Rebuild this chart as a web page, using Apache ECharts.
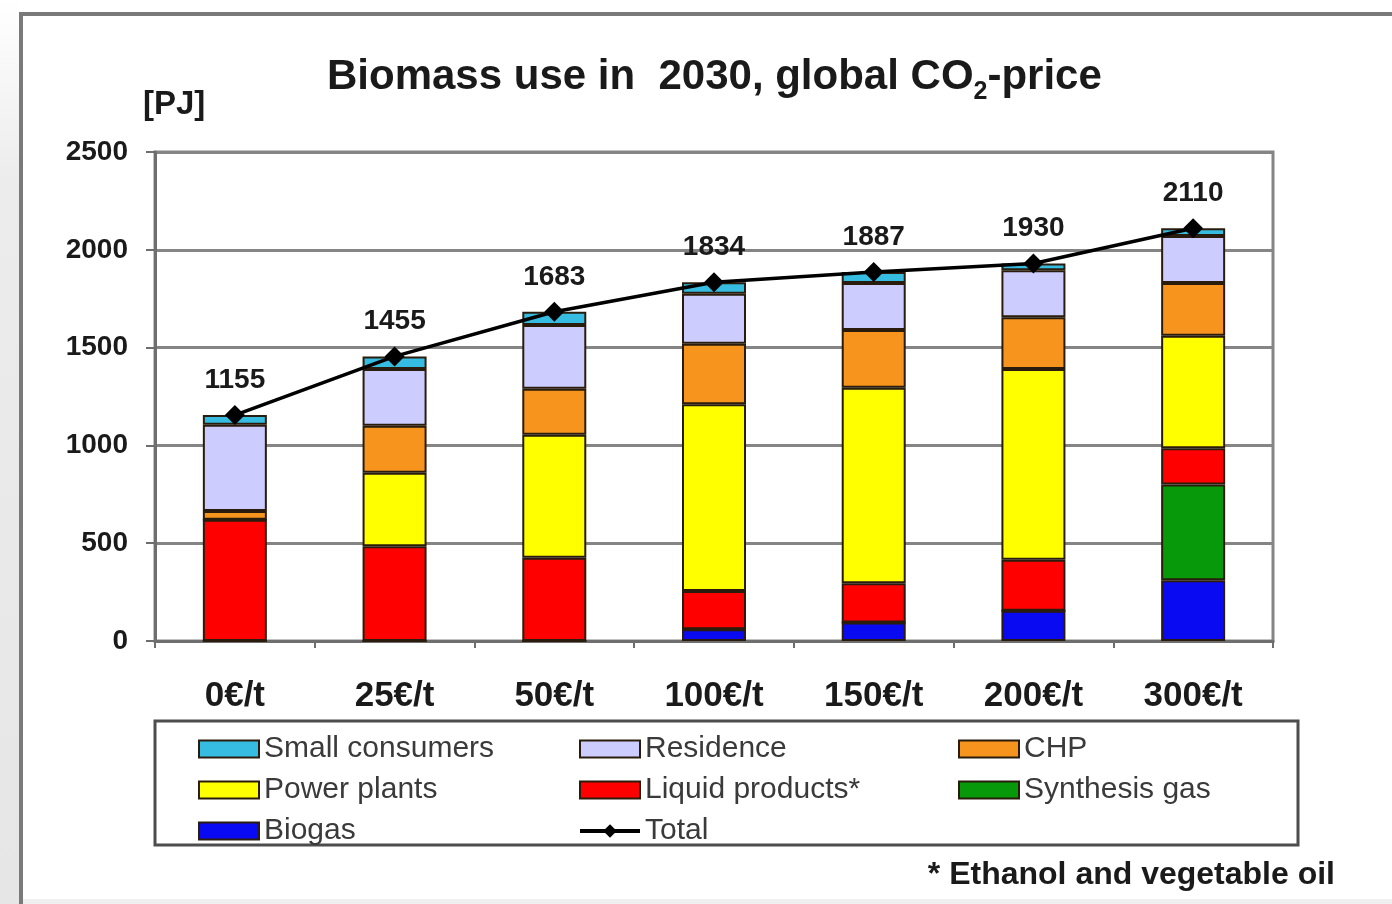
<!DOCTYPE html>
<html>
<head>
<meta charset="utf-8">
<script src="https://cdn.jsdelivr.net/npm/echarts@6/dist/echarts.min.js"></script>
<style>
  html, body { margin: 0; padding: 0; background: #ffffff; }
  #chart { width: 1392px; height: 904px; }
</style>
</head>
<body>
<div id="chart"></div>
<script>
// CO2 price scenarios
const categories = ['0€/t', '25€/t', '50€/t', '100€/t', '150€/t', '200€/t', '300€/t'];

// Biomass use by sector [PJ]
const biogas         = [0, 0, 0, 60, 95, 155, 310];
const synthesisGas   = [0, 0, 0, 0, 0, 0, 490];
const liquidProducts = [620, 485, 425, 195, 200, 260, 185];
const powerPlants    = [0, 375, 630, 955, 1000, 975, 575];
const chp            = [45, 240, 235, 310, 295, 265, 270];
const residence      = [440, 290, 325, 255, 240, 240, 240];
const smallConsumers = [50, 65, 68, 59, 57, 35, 40];
const total          = [1155, 1455, 1683, 1834, 1887, 1930, 2110];

const yTicks = [0, 500, 1000, 1500, 2000, 2500];

const FONT = '"Liberation Sans", Arial, Helvetica, sans-serif';
const EDGE = '#2a1c0c';

function barSeries(name, data, color) {
  return {
    name: name,
    type: 'bar',
    stack: 'use',
    data: data,
    barWidth: 64,
    itemStyle: { color: color, borderColor: EDGE, borderWidth: 2 },
    emphasis: { disabled: true }
  };
}

const chart = echarts.init(document.getElementById('chart'), null, { renderer: 'canvas' });

const legendText = { fontFamily: FONT, fontSize: 30, color: '#3a3a3a', lineHeight: 28 };
function legendCol(left, names) {
  return {
    orient: 'vertical',
    left: left,
    top: 734,
    itemWidth: 60,
    itemHeight: 17,
    itemGap: 11,
    itemStyle: { borderWidth: 2, borderColor: EDGE },
    padding: 0,
    textStyle: legendText,
    selectedMode: false,
    data: names.map(function (n) {
      if (n === 'Total') {
        return { name: n, lineStyle: { width: 4, color: '#000000' }, itemStyle: { color: '#000000', borderWidth: 0 } };
      }
      return { name: n, icon: 'rect' };
    })
  };
}

chart.setOption({
  animation: false,
  backgroundColor: '#ffffff',
  title: {
    left: 327,
    top: 50,
    padding: 0,
    text: '{a|Biomass use in  2030, global CO}{s|2}{a|-price}',
    textStyle: {
      rich: {
        a: { fontFamily: FONT, fontSize: 42, fontWeight: 'bold', color: '#1a1a1a', lineHeight: 55, verticalAlign: 'middle' },
        s: { fontFamily: FONT, fontSize: 25, fontWeight: 'bold', color: '#1a1a1a', lineHeight: 55, verticalAlign: 'bottom' }
      }
    }
  },
  legend: [
    legendCol(198, ['Small consumers', 'Power plants', 'Biogas']),
    legendCol(578, ['Residence', 'Liquid products*', 'Total']),
    legendCol(958, ['CHP', 'Synthesis gas'])
  ],
  grid: {
    left: 155,
    right: 119,
    top: 152,
    bottom: 263,
    show: true,
    borderColor: '#858585',
    borderWidth: 3,
    backgroundColor: 'transparent'
  },
  xAxis: {
    type: 'category',
    data: categories,
    axisLine: { lineStyle: { color: '#6e6e6e', width: 3 } },
    axisTick: { show: true, length: 7, lineStyle: { color: '#6e6e6e', width: 2 } },
    axisLabel: { margin: 38, fontFamily: FONT, fontSize: 35, fontWeight: 'bold', color: '#1a1a1a' },
    splitLine: { show: false }
  },
  yAxis: {
    type: 'value',
    min: yTicks[0],
    max: yTicks[yTicks.length - 1],
    interval: 500,
    axisLine: { show: true, lineStyle: { color: '#6e6e6e', width: 3 } },
    axisTick: { show: true, length: 9, lineStyle: { color: '#6e6e6e', width: 2 } },
    axisLabel: {
      margin: 27, fontFamily: FONT, fontSize: 28, fontWeight: 'bold', color: '#1a1a1a',
      formatter: function (v) { return String(v); }
    },
    splitLine: { show: true, lineStyle: { color: '#858585', width: 3 } }
  },
  series: [
    barSeries('Biogas', biogas, '#0a0af2'),
    barSeries('Synthesis gas', synthesisGas, '#07990a'),
    barSeries('Liquid products*', liquidProducts, '#ff0000'),
    barSeries('Power plants', powerPlants, '#ffff00'),
    barSeries('CHP', chp, '#f7941e'),
    barSeries('Residence', residence, '#ccccff'),
    barSeries('Small consumers', smallConsumers, '#35bce0'),
    {
      name: 'Total',
      type: 'line',
      data: total,
      symbol: 'diamond',
      symbolSize: 20,
      lineStyle: { color: '#000000', width: 3.5 },
      itemStyle: { color: '#000000' },
      label: {
        show: true,
        position: 'top',
        distance: 11,
        fontFamily: FONT,
        fontSize: 28,
        fontWeight: 'bold',
        color: '#1a1a1a'
      },
      emphasis: { disabled: true },
      z: 5
    }
  ],
  graphic: [
    // page edge shading on the left
    {
      type: 'rect', silent: true, z: -10,
      shape: { x: 0, y: 0, width: 19, height: 904 },
      style: {
        fill: new echarts.graphic.LinearGradient(0, 0, 0, 1, [
          { offset: 0, color: '#ffffff' },
          { offset: 0.2, color: '#ececec' },
          { offset: 1, color: '#e6e6e6' }
        ])
      }
    },
    {
      type: 'rect', silent: true, z: -10,
      shape: { x: 19, y: 899, width: 1373, height: 5 },
      style: { fill: '#f0f0f0' }
    },
    // outer frame
    {
      type: 'polyline', silent: true, z: 10,
      shape: { points: [[21, 904], [21, 14], [1392, 14]] },
      style: { stroke: '#7a7a7a', lineWidth: 4, fill: null }
    },
    // legend box
    {
      type: 'rect', silent: true, z: 1,
      shape: { x: 155, y: 721, width: 1143, height: 124 },
      style: { fill: '#ffffff', stroke: '#4d4d4d', lineWidth: 3 }
    },
    // unit label
    {
      type: 'text', silent: true,
      x: 143, y: 105,
      style: {
        text: '[PJ]', fontFamily: FONT, fontSize: 33, fontWeight: 'bold',
        fill: '#1a1a1a', textAlign: 'left', textVerticalAlign: 'middle'
      }
    },
    // footnote
    {
      type: 'text', silent: true,
      x: 1335, y: 875,
      style: {
        text: '* Ethanol and vegetable oil', fontFamily: FONT, fontSize: 32, fontWeight: 'bold',
        fill: '#1a1a1a', textAlign: 'right', textVerticalAlign: 'middle'
      }
    }
  ]
});
</script>
</body>
</html>
